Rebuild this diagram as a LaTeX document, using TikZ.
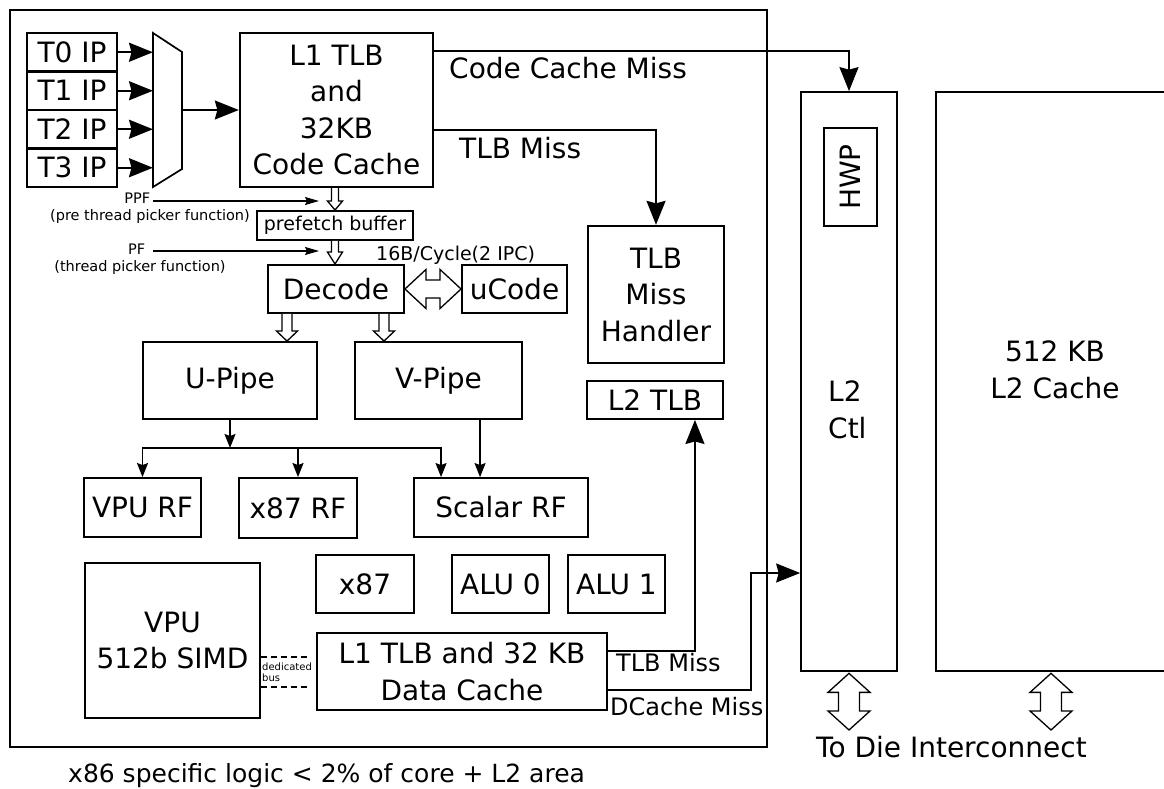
\documentclass[tikz,border=0pt]{standalone}
\usepackage{fontspec}
\setmainfont{DejaVu Sans}
\usetikzlibrary{arrows.meta,calc}

% font sizes (1pt = 1 output pixel)
\newcommand\fbig{\fontsize{28}{36.5}\selectfont}
\newcommand\fmid{\fontsize{19}{23}\selectfont}
\newcommand\fsml{\fontsize{24}{29}\selectfont}
\newcommand\fcap{\fontsize{25}{30}\selectfont}
\newcommand\fsm{\fontsize{14.5}{17}\selectfont}
\newcommand\ftiny{\fontsize{10}{11}\selectfont}

% hollow block arrow pointing down: start, end, half shaft, half head, head length
\newcommand\hollowdown[5]{%
  \draw[hollow] let \p1=(#1), \p2=(#2) in
    ({\x1-#3pt},\y1) -- ({\x1-#3pt},{\y2+#5pt}) -- ({\x1-#4pt},{\y2+#5pt})
    -- (\x1,\y2) -- ({\x1+#4pt},{\y2+#5pt}) -- ({\x1+#3pt},{\y2+#5pt})
    -- ({\x1+#3pt},\y1);}
% hollow double arrow, horizontal: left tip, right tip, half shaft, half head, head length
\newcommand\hollowlr[5]{%
  \draw[hollow] let \p1=(#1), \p2=(#2) in
    (\x1,\y1) -- ({\x1+#5pt},{\y1+#4pt}) -- ({\x1+#5pt},{\y1+#3pt})
    -- ({\x2-#5pt},{\y1+#3pt}) -- ({\x2-#5pt},{\y1+#4pt}) -- (\x2,\y1)
    -- ({\x2-#5pt},{\y1-#4pt}) -- ({\x2-#5pt},{\y1-#3pt})
    -- ({\x1+#5pt},{\y1-#3pt}) -- ({\x1+#5pt},{\y1-#4pt}) -- cycle;}
% hollow double arrow, vertical: top tip, bottom tip, half shaft, half head, head length
\newcommand\hollowud[5]{%
  \draw[hollow] let \p1=(#1), \p2=(#2) in
    (\x1,\y1) -- ({\x1+#4pt},{\y1-#5pt}) -- ({\x1+#3pt},{\y1-#5pt})
    -- ({\x1+#3pt},{\y2+#5pt}) -- ({\x1+#4pt},{\y2+#5pt}) -- (\x1,\y2)
    -- ({\x1-#4pt},{\y2+#5pt}) -- ({\x1-#3pt},{\y2+#5pt})
    -- ({\x1-#3pt},{\y1-#5pt}) -- ({\x1-#4pt},{\y1-#5pt}) -- cycle;}

\tikzset{
  box/.style={draw, line width=2.3pt, inner sep=0pt, align=center, font=\fbig},
  thinbox/.style={box, line width=1.7pt},
  txt/.style={inner sep=0pt, align=center},
  big/.style={line width=1.7pt, -{Stealth[length=24pt,width=19pt,inset=2.5pt]}},
  mid/.style={line width=1.6pt, -{Stealth[length=14pt,width=11pt,inset=2pt]}},
  fine/.style={line width=1.2pt, -{Stealth[length=14pt,width=8pt,inset=2pt]}},
  hollow/.style={draw, line width=1.3pt, fill=white, line join=miter},
  bus/.style={line width=1.2pt, dash pattern=on 6pt off 4pt},
}

\begin{document}
\begin{tikzpicture}[x=1pt,y=-1pt]
\useasboundingbox (0,0) rectangle (1164,789);

% core outline
\node[draw, line width=2.6pt, minimum width=757, minimum height=737, inner sep=0pt] (core) at (388.5,378.5) {};

% thread instruction pointers and picker
\node[box, minimum width=90, minimum height=38.5] (t0) at (72,52.25) {T0 IP};
\node[box, minimum width=90, minimum height=38.5] (t1) at (72,90.75) {T1 IP};
\node[box, minimum width=90, minimum height=38.5] (t2) at (72,129.25) {T2 IP};
\node[box, minimum width=90, minimum height=38.5] (t3) at (72,167.75) {T3 IP};
\draw[line width=1.7pt] (153,33) -- (182,52) -- (182,169) -- (153,187) -- cycle;
\coordinate (muxl) at (153,110);
\coordinate (muxr) at (182,110);

% front end
\node[box, minimum width=193, minimum height=154] (l1) at (336.5,110) {L1 TLB\\and\\32KB\\Code Cache};
\node[box, line width=1.9pt, font=\fmid, minimum width=156, minimum height=29] (pref) at (335,225.5) {prefetch buffer};
\node[box, line width=1.9pt, minimum width=136, minimum height=48] (decode) at (336,289) {Decode};
\node[box, line width=1.9pt, minimum width=105, minimum height=48] (ucode) at (514.5,289) {uCode};
\node[box, line width=1.9pt, minimum width=174, minimum height=77] (upipe) at (230,380.5) {U-Pipe};
\node[box, line width=1.9pt, minimum width=167, minimum height=77] (vpipe) at (438.5,380.5) {V-Pipe};
\node[box, minimum width=136, minimum height=137] (handler) at (656,294.5) {TLB\\Miss\\Handler};
\node[box, line width=1.9pt, minimum width=136, minimum height=38] (l2tlb) at (655,400) {L2 TLB};

% register files and execution units
\node[box, line width=1.9pt, minimum width=117, minimum height=59] (vpurf) at (142.5,507.5) {VPU RF};
\node[box, line width=1.9pt, minimum width=118, minimum height=60] (x87rf) at (298,508) {x87 RF};
\node[box, line width=1.9pt, minimum width=174, minimum height=59] (scalarrf) at (501,507.5) {Scalar RF};
\node[box, line width=1.9pt, minimum width=98, minimum height=58] (x87) at (365,584) {x87};
\node[box, line width=1.9pt, minimum width=97, minimum height=58] (alu0) at (500.5,584) {ALU 0};
\node[box, line width=1.9pt, minimum width=97, minimum height=58] (alu1) at (616.5,584) {ALU 1};
\node[box, minimum width=175, minimum height=155] (vpu) at (172.5,640.5) {VPU\\512b SIMD};
\node[box, line width=1.9pt, minimum width=290, minimum height=77] (dcache) at (462,671.5) {L1 TLB and 32 KB\\Data Cache};

% L2 side
\node[thinbox, minimum width=96, minimum height=579] (l2ctl) at (849,381.5) {};
\node[thinbox, rotate=90, minimum width=98, minimum height=53] (hwp) at (850.5,177) {HWP};
\node[txt, font=\fbig, anchor=west, align=left] (l2ctlt) at (828,410) {L2\\Ctl};
\node[thinbox, minimum width=234, minimum height=579] (l2cache) at (1053,381.5) {};
\node[txt, font=\fbig] (l2cachet) at (1055,370) {512 KB\\L2 Cache};

% picker inputs
\foreach \i in {0,...,3} \draw[big] (t\i.east) -- (t\i.east -| muxl);
\draw[big] (muxr) -- (muxr -| l1.west);

% thread picker labels
\node[txt, font=\fsm, anchor=east] (ppf) at (150.5,198) {PPF};
\node[txt, font=\fsm] (ppfd) at (150,216) {(pre thread picker function)};
\node[txt, font=\fsm, anchor=east] (pf) at (145.5,249) {PF};
\node[txt, font=\fsm] (pfd) at (140,267) {(thread picker function)};
\coordinate (ppfs) at (153,201);
\coordinate (ppfe) at (319,201);
\coordinate (pfs) at (153,251);
\coordinate (pfe) at (319,251);
\draw[fine] (ppfs) -- (ppfe);
\draw[fine] (pfs) -- (pfe);

% block arrows through the front end
\hollowdown{l1.south -| pref.north}{pref.north}{3.5}{7.5}{9}
\hollowdown{pref.south}{decode.north}{3.5}{7.5}{12}
\hollowdown{$(decode.south)+(-49,0)$}{upipe.north}{5}{10.5}{10}
\hollowdown{$(decode.south)+(48,0)$}{vpipe.north}{5}{10.5}{10}
\hollowlr{decode.east}{ucode.west}{9}{19.5}{21}
\node[txt, font=\fmid, anchor=base west] (bw) at (376,260) {16B/Cycle(2 IPC)};

% misses to L2
\draw[big] ($(l1.north east)+(0,19)$) -| (l2ctl.north);
\node[txt, font=\fbig, anchor=base west] (ccm) at (449,79) {Code Cache Miss};
\draw[big] ($(l1.south east)+(0,-58)$) -| (handler.north);
\node[txt, font=\fbig, anchor=base west] (itlbm) at (459,158) {TLB Miss};

% pipes to register files
\coordinate (jn) at (230,448);
\coordinate (sr1) at ($(scalarrf.north west)+(28,0)$);
\coordinate (sr2) at ($(scalarrf.north west)+(67,0)$);
\draw[mid] (upipe.south) -- (jn);
\draw[mid] (jn) -| (vpurf.north);
\draw[mid] (jn) -| (x87rf.north);
\draw[mid] (jn) -| (sr1);
\draw[mid] (vpipe.south -| sr2) -- (sr2);

% dedicated bus between VPU and data cache
\draw[bus] ($(vpu.east |- dcache.west)+(0,-14.5)$) -- ($(dcache.west)+(-5,-14.5)$);
\draw[bus] ($(vpu.east |- dcache.west)+(0,15.5)$) -- ($(dcache.west)+(-5,15.5)$);
\node[txt, font=\ftiny, anchor=west, align=left] (busl) at (262,672) {dedicated\\bus};

% data side misses
\draw[big] ($(dcache.east)+(0,-20.5)$) -| ($(l2tlb.south east)+(-29,0)$);
\node[txt, font=\fsml, anchor=base west] (dtlbm) at (616,671) {TLB Miss};
\coordinate (dm) at (751,573);
\draw[big] ($(dcache.east)+(0,18.5)$) -| (dm) -- (dm -| l2ctl.west);
\node[txt, font=\fsml, anchor=base west] (dcm) at (610,715) {DCache Miss};

% die interconnect
\coordinate (ctlio) at (849,730);
\coordinate (cacheio) at (1051,730);
\hollowud{$(l2ctl.south)+(0,1.5)$}{ctlio}{10.5}{21}{19}
\hollowud{$(l2cache.south -| cacheio)+(0,1.5)$}{cacheio}{10.5}{21}{19}
\node[txt, font=\fbig, anchor=base west] (die) at (816,757) {To Die Interconnect};

\node[txt, font=\fcap, anchor=base west] (caption) at (68,782) {x86 specific logic < 2\% of core + L2 area};
\end{tikzpicture}
\end{document}
